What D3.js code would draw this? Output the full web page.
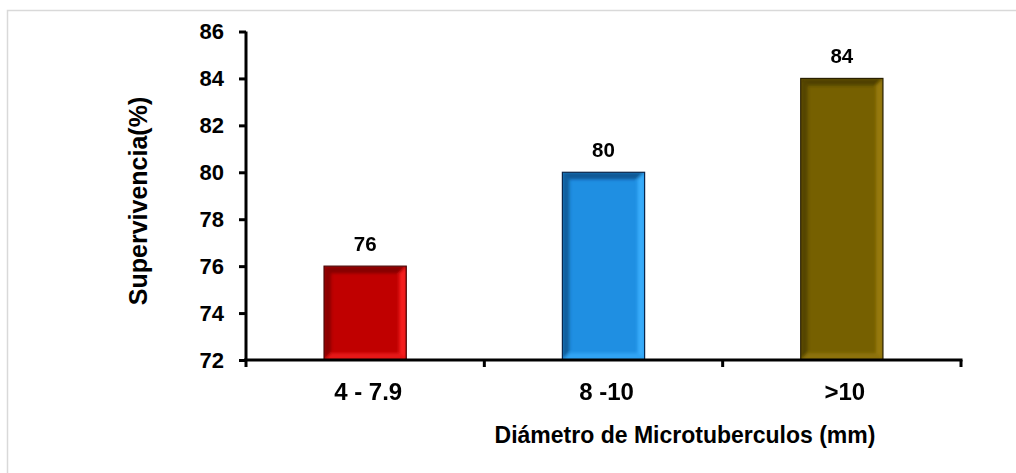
<!DOCTYPE html>
<html>
<head>
<meta charset="utf-8">
<script src="https://cdn.jsdelivr.net/npm/d3@7"></script>
<style>
  html, body { margin: 0; padding: 0; background: #fff; }
  svg { display: block; font-family: "Liberation Sans", Arial, sans-serif; }
</style>
</head>
<body>
<svg id="chart" width="1016" height="473"></svg>
<script>
// Survival by microtuber diameter class
const categories = ["4 - 7.9", "8 -10", ">10"];
const survival = [76, 80, 84];
const yTicks = [72, 74, 76, 78, 80, 82, 84, 86];
const barColors = [
  { base: "#c00000", dark: "#4a0000", light: "#ff2424" },
  { base: "#1f8fe2", dark: "#08254a", light: "#3cb2ff" },
  { base: "#766000", dark: "#2a2000", light: "#9c7e12" }
];

const svg = d3.select("#chart");

// soft edge filter for the bevels
const defs = svg.append("defs");
defs.append("filter").attr("id", "soft")
  .append("feGaussianBlur").attr("stdDeviation", 1.6);

// outer frame
svg.append("rect")
  .attr("x", 7.5).attr("y", 10.5)
  .attr("width", 1030).attr("height", 480)
  .attr("fill", "none").attr("stroke", "#d9d9d9").attr("stroke-width", 1.5);

const plotLeft = 246, plotRight = 961, plotTop = 31.5, plotBottom = 360;

const x = d3.scaleBand().domain(categories).range([plotLeft, plotRight]).padding(0);
const y = d3.scaleLinear().domain([72, 86]).range([plotBottom, plotTop]);

const barW = x.bandwidth() * 0.345;

// bars with a bevelled look
const g = svg.append("g");
categories.forEach((c, i) => {
  const cx = x(c) + x.bandwidth() / 2;
  const x0 = cx - barW / 2, x1 = cx + barW / 2;
  const y0 = y(survival[i]), y1 = y(72);
  const col = barColors[i];
  const b = 7;
  const clipId = "clip" + i;
  defs.append("clipPath").attr("id", clipId)
    .append("rect").attr("x", x0).attr("y", y0).attr("width", x1 - x0).attr("height", y1 - y0);
  const bar = g.append("g").attr("clip-path", `url(#${clipId})`);
  bar.append("rect").attr("x", x0).attr("y", y0).attr("width", x1 - x0).attr("height", y1 - y0)
    .attr("fill", col.base);
  const bev = bar.append("g").attr("filter", "url(#soft)");
  // top bevel
  bev.append("polygon").attr("points", [[x0, y0], [x1, y0], [x1 - b, y0 + b], [x0 + b, y0 + b]].join(" "))
    .attr("fill", col.dark).attr("opacity", 0.5);
  // left bevel
  bev.append("polygon").attr("points", [[x0, y0], [x0 + b, y0 + b], [x0 + b, y1 - b], [x0, y1]].join(" "))
    .attr("fill", col.dark).attr("opacity", 0.45);
  // right bevel
  bev.append("polygon").attr("points", [[x1, y0], [x1, y1], [x1 - b, y1 - b], [x1 - b, y0 + b]].join(" "))
    .attr("fill", col.light).attr("opacity", 0.85);
  // bottom bevel
  bev.append("polygon").attr("points", [[x0, y1], [x1, y1], [x1 - b, y1 - b], [x0 + b, y1 - b]].join(" "))
    .attr("fill", col.light).attr("opacity", 0.6);
  // outline
  g.append("rect").attr("x", x0).attr("y", y0).attr("width", x1 - x0).attr("height", y1 - y0)
    .attr("fill", "none").attr("stroke", col.dark).attr("stroke-width", 1.2);
});

// value labels
svg.append("g").selectAll("text").data(categories).join("text")
  .attr("x", d => x(d) + x.bandwidth() / 2)
  .attr("y", (d, i) => y(survival[i]) - 15)
  .attr("text-anchor", "middle")
  .attr("font-size", 20.5).attr("font-weight", "bold").attr("fill", "#000")
  .text((d, i) => survival[i]);

// y axis
const yAxis = svg.append("g").attr("transform", `translate(${plotLeft},0)`)
  .call(d3.axisLeft(y).tickValues(yTicks).tickSize(7).tickPadding(15).tickFormat(d3.format("d")));
yAxis.select(".domain").attr("d", `M0,${plotTop}V${plotBottom}`).attr("stroke", "#000").attr("stroke-width", 3);
yAxis.selectAll(".tick line").attr("stroke", "#000").attr("stroke-width", 3);
yAxis.selectAll(".tick text").attr("font-size", 22).attr("font-weight", "bold").attr("fill", "#000")
  .attr("font-family", "Liberation Sans, Arial, sans-serif");

// x axis: ticks sit on category boundaries
const xAxis = svg.append("g").attr("transform", `translate(0,${plotBottom})`);
xAxis.append("line").attr("x1", plotLeft - 2).attr("x2", plotRight + 1.5).attr("y1", 0).attr("y2", 0)
  .attr("stroke", "#000").attr("stroke-width", 3);
const boundaries = categories.map(c => x(c)).concat([x(categories[categories.length - 1]) + x.bandwidth()]);
xAxis.selectAll("line.tick").data(boundaries).join("line").attr("class", "tick")
  .attr("x1", d => d).attr("x2", d => d).attr("y1", 0).attr("y2", 7)
  .attr("stroke", "#000").attr("stroke-width", 3);
xAxis.selectAll("text").data(categories).join("text")
  .attr("x", d => x(d) + x.bandwidth() / 2 + 3)
  .attr("y", 40)
  .attr("text-anchor", "middle")
  .attr("font-size", 24).attr("font-weight", "bold").attr("fill", "#000")
  .text(d => d);

// axis titles
svg.append("text")
  .attr("x", 685).attr("y", 443)
  .attr("text-anchor", "middle")
  .attr("font-size", 23).attr("font-weight", "bold").attr("fill", "#000")
  .text("Diámetro de Microtuberculos (mm)");

svg.append("text")
  .attr("transform", "translate(147,201) rotate(-90)")
  .attr("text-anchor", "middle")
  .attr("font-size", 25).attr("font-weight", "bold").attr("fill", "#000")
  .text("Supervivencia(%)");
</script>
</body>
</html>
